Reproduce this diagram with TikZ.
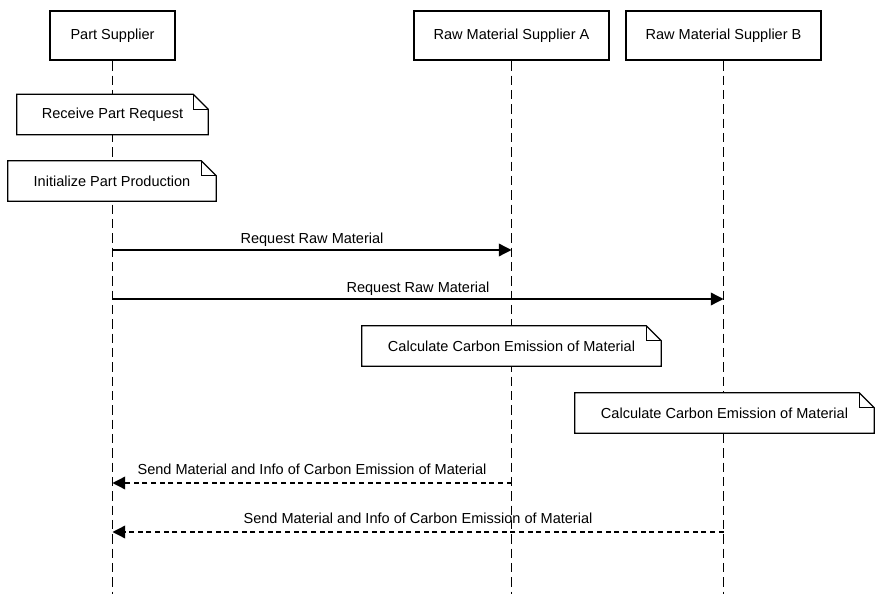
\documentclass[tikz,border=0pt]{standalone}
\usepackage{fontspec}
\setmainfont{Liberation Sans}
\usetikzlibrary{arrows.meta,backgrounds}

\begin{document}
\begin{tikzpicture}[x=0.03cm, y=-0.03cm,
  actor/.style={draw, line width=0.75mm, minimum height=14.7mm,
                inner sep=2pt, font=\fontsize{12.4}{14}\selectfont},
  note/.style={minimum height=12mm, inner sep=2pt,
               font=\fontsize{12.4}{14}\selectfont},
  life/.style={line width=0.4mm, dash pattern=on 2.8mm off 1.5mm},
  msg/.style={line width=0.4mm, -{Triangle[length=3.8mm,width=3.8mm]}},
  ret/.style={msg, dash pattern=on 1.5mm off 1.1mm},
  lbl/.style={above=0.6mm, inner sep=1pt, font=\fontsize{12.4}{14}\selectfont}]
\useasboundingbox (0,0) rectangle (882,594);
% actors
\node[actor, minimum width=37.5mm] (PS) at (112.5,35.5) {Part Supplier};
\node[actor, minimum width=58.5mm] (RA) at (511.5,35.5) {Raw Material Supplier A};
\node[actor, minimum width=58.5mm] (RB) at (723.5,35.5) {Raw Material Supplier B};
\coordinate (bot) at (0,594);
% notes
\node[note, minimum width=57.3mm] (recv) at (112.5,114.5) {Receive Part Request};
\node[note, minimum width=62.4mm] (init) at (112,181) {Initialize Part Production};
\node[note, minimum width=89.7mm] (calcA) at (511.5,346) {Calculate Carbon Emission of Material};
\node[note, minimum width=89.7mm] (calcB) at (724.5,413) {Calculate Carbon Emission of Material};
\begin{scope}[on background layer]
\draw[life] (PS.south) -- (PS |- bot);
\draw[life] (RA.south) -- (RA |- bot);
\draw[life] (RB.south) -- (RB |- bot);
\foreach \n in {recv,init,calcA,calcB} {
  \filldraw[fill=white, line width=0.4mm] (\n.south west) -- (\n.north west)
    -- ([xshift=-4.5mm]\n.north east) -- ([yshift=-4.5mm]\n.north east)
    -- (\n.south east) -- cycle;
  \draw[line width=0.4mm] ([xshift=-4.5mm]\n.north east) |- ([yshift=-4.5mm]\n.north east);
}
\end{scope}
% messages
\coordinate (m1) at (0,250);
\coordinate (m2) at (0,299);
\coordinate (m3) at (0,483);
\coordinate (m4) at (0,532);
\draw[msg] (PS |- m1) -- node[lbl]{Request Raw Material} (RA |- m1);
\draw[msg] (PS |- m2) -- node[lbl]{Request Raw Material} (RB |- m2);
\draw[ret] (RA |- m3) -- node[lbl, above=1.5mm]{Send Material and Info of Carbon Emission of Material} (PS |- m3);
\draw[ret] (RB |- m4) -- node[lbl, above=1.5mm]{Send Material and Info of Carbon Emission of Material} (PS |- m4);
\end{tikzpicture}
\end{document}
